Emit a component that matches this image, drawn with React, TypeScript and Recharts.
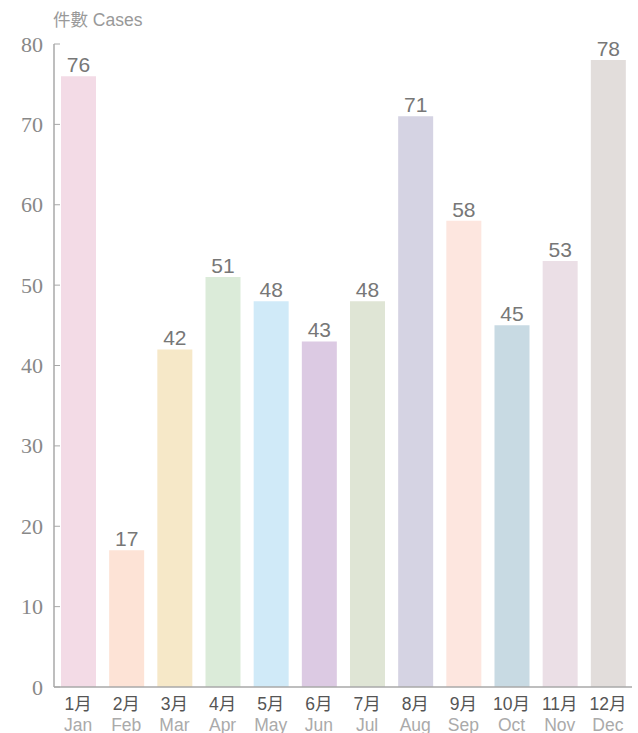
import React from 'react';
import { BarChart, Bar, XAxis, YAxis, Cell, LabelList } from 'recharts';

const monthsZh = ['1月', '2月', '3月', '4月', '5月', '6月', '7月', '8月', '9月', '10月', '11月', '12月'];
const monthsEn = ['Jan', 'Feb', 'Mar', 'Apr', 'May', 'Jun', 'Jul', 'Aug', 'Sep', 'Oct', 'Nov', 'Dec'];
const cases = [76, 17, 42, 51, 48, 43, 48, 71, 58, 45, 53, 78];
const barColors = [
  '#f3dbe6', '#fde3d6', '#f6e8c8', '#dbebd9', '#d0eaf8', '#dccae3',
  '#dfe5d5', '#d5d3e3', '#fde6df', '#c8dae3', '#ebdfe6', '#e2dddb',
];
const yTicks = [0, 10, 20, 30, 40, 50, 60, 70, 80];

const data = monthsZh.map((zh, i) => ({ zh, en: monthsEn[i], value: cases[i] }));

const AXIS = '#a8a8a8';
const SANS = "'Liberation Sans', Arial, 'Noto Sans CJK TC', sans-serif";
const SERIF = "'Liberation Serif', 'Times New Roman', serif";

function YTick({ x, y, payload }: any) {
  return (
    <g>
      <line x1={x} y1={y} x2={x + 6} y2={y} stroke={AXIS} strokeWidth={1} />
      <text
        x={x - 11}
        y={y}
        textAnchor="end"
        dominantBaseline="central"
        style={{ fontFamily: SERIF, fontSize: 22 }}
        fill="#888"
      >
        {payload.value}
      </text>
    </g>
  );
}

function XTick({ x, y, payload, index }: any) {
  return (
    <g>
      <text x={x} y={y + 23} textAnchor="middle" style={{ fontFamily: SANS, fontSize: 17.5 }} fill="#555">
        {payload.value}
      </text>
      <text x={x} y={y + 44} textAnchor="middle" style={{ fontFamily: SANS, fontSize: 17.5 }} fill="#aaa">
        {monthsEn[index]}
      </text>
    </g>
  );
}

function ValueLabel({ x, y, width, value }: any) {
  return (
    <text
      x={x + width / 2}
      y={y - 4}
      textAnchor="middle"
      style={{ fontFamily: SANS, fontSize: 21 }}
      fill="#777"
    >
      {value}
    </text>
  );
}

export default function App() {
  return (
    <div style={{ position: 'absolute', left: 0, top: 0, width: 638, height: 733, background: '#fff' }}>
      <div
        style={{
          position: 'absolute',
          left: 53,
          top: 10,
          fontFamily: SANS,
          fontSize: 17.5,
          color: '#999',
          lineHeight: '20px',
        }}
      >
        件數 Cases
      </div>
      <BarChart
        width={638}
        height={733}
        data={data}
        margin={{ top: 44, right: 6, left: 0, bottom: 0 }}
        barSize={35}
      >
        <YAxis
          domain={[0, 80]}
          ticks={yTicks}
          width={54}
          tickLine={false}
          tickSize={0}
          tickMargin={0}
          axisLine={{ stroke: AXIS, strokeWidth: 1.5 }}
          tick={<YTick />}
          interval={0}
        />
        <XAxis
          dataKey="zh"
          height={46}
          tickLine={false}
          tickSize={0}
          tickMargin={0}
          axisLine={{ stroke: AXIS, strokeWidth: 1.5 }}
          tick={<XTick />}
          interval={0}
        />
        <Bar dataKey="value" isAnimationActive={false}>
          {data.map((d, i) => (
            <Cell key={d.zh} fill={barColors[i]} />
          ))}
          <LabelList dataKey="value" content={<ValueLabel />} />
        </Bar>
      </BarChart>
    </div>
  );
}
